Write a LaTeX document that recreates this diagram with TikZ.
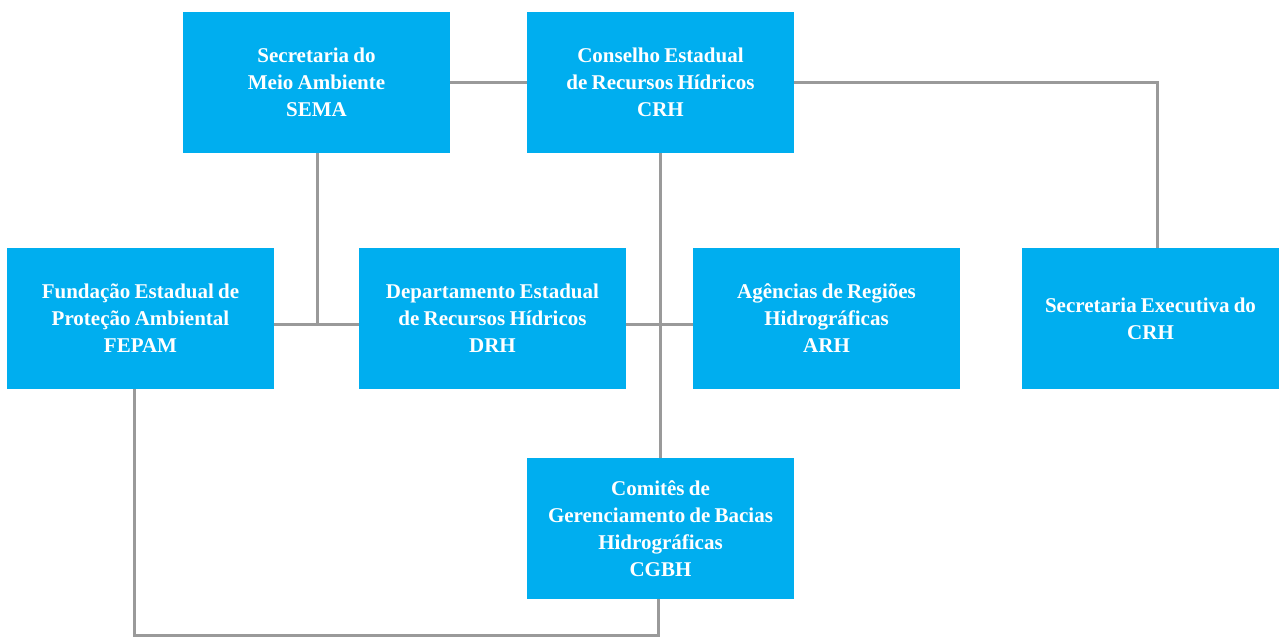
\documentclass[tikz,border=0pt]{standalone}
\usepackage{fontspec}
\setmainfont{Liberation Serif}
\definecolor{boxblue}{HTML}{00AEEF}
\definecolor{linegray}{HTML}{9A9A9A}
\tikzset{
  orgbox/.style={fill=boxblue, draw=none, minimum width=267pt, minimum height=141pt,
    text width=260pt, align=center, text=white, inner sep=0pt,
    font=\fontsize{21}{27}\selectfont\bfseries,
    execute at begin node={\spaceskip=0.2em\relax}},
  link/.style={draw=linegray, line width=3pt}
}
\begin{document}
\begin{tikzpicture}[x=1pt, y=-1pt]
\useasboundingbox (0,0) rectangle (1279,637);
\node[orgbox] (sema) at (316.5,82.5) {Secretaria do\\Meio Ambiente\\SEMA};
\node[orgbox] (crh) at (660.5,82.5) {Conselho Estadual\\de Recursos Hídricos\\CRH};
\node[orgbox] (fepam) at (140.5,318.5) {Fundação Estadual de\\Proteção Ambiental\\FEPAM};
\node[orgbox] (drh) at (492.5,318.5) {Departamento Estadual\\de Recursos Hídricos\\DRH};
\node[orgbox] (arh) at (826.5,318.5) {Agências de Regiões\\Hidrográficas\\ARH};
\node[orgbox, minimum width=257pt, text width=250pt] (sec) at (1150.5,318.5) {Secretaria Executiva do\\CRH};
\node[orgbox] (cgbh) at (660.5,528.5) {Comitês de\\Gerenciamento de Bacias\\Hidrográficas\\CGBH};
\coordinate (j1) at (317,324);
\coordinate (c1) at (1157,82);
\coordinate (b1) at (134,635);
\coordinate (b2) at (658,635);
\draw[link] (sema.east |- c1) -- (crh.west |- c1);
\draw[link] (crh.east |- c1) -- (c1) -- (c1 |- sec.north);
\draw[link] (j1 |- sema.south) -- (j1);
\draw[link] (fepam.east |- j1) -- (drh.west |- j1);
\draw[link] (drh.east |- j1) -- (arh.west |- j1);
\draw[link] (crh.south) -- (cgbh.north);
\draw[link] (b1 |- fepam.south) -- (b1) -- (b2) -- (b2 |- cgbh.south);
\end{tikzpicture}
\end{document}
